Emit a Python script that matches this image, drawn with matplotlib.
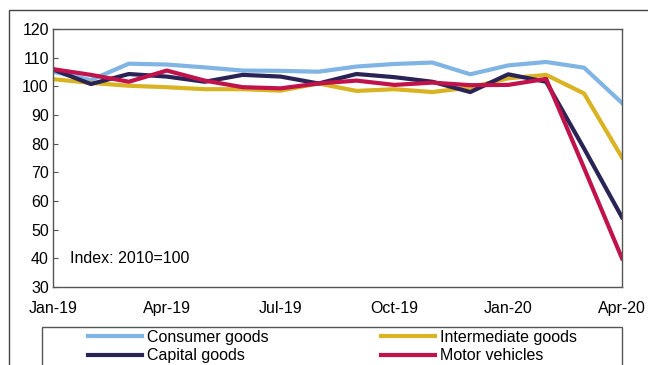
import matplotlib
matplotlib.use("Agg")
import matplotlib.pyplot as plt
from matplotlib.patches import Rectangle

plt.rcParams['font.family'] = ['Liberation Sans', 'DejaVu Sans']

months = ["Jan-19", "Feb-19", "Mar-19", "Apr-19", "May-19", "Jun-19", "Jul-19", "Aug-19",
          "Sep-19", "Oct-19", "Nov-19", "Dec-19", "Jan-20", "Feb-20", "Mar-20", "Apr-20"]

consumer = [105.1, 102.2, 107.9, 107.6, 106.6, 105.5, 105.4, 105.1,
            106.9, 107.8, 108.3, 104.2, 107.3, 108.5, 106.5, 94.2]
intermediate = [102.5, 101.2, 100.2, 99.7, 99.0, 99.0, 98.5, 101.0,
                98.4, 99.0, 98.0, 99.6, 102.8, 104.0, 97.5, 75.2]
capital = [105.9, 100.8, 104.3, 103.4, 101.6, 104.0, 103.4, 101.0,
           104.3, 103.2, 101.6, 98.0, 104.2, 101.6, 78.3, 54.3]
motor = [106.0, 104.0, 101.6, 105.5, 102.0, 99.7, 99.3, 101.0,
         102.0, 100.5, 101.3, 100.4, 100.5, 102.6, 71.5, 40.0]

series = [
    ("Consumer goods", consumer, "#7fb4e4"),
    ("Intermediate goods", intermediate, "#d9b322"),
    ("Capital goods", capital, "#2a2456"),
    ("Motor vehicles", motor, "#c1124b"),
]

fs = 11.5

fig = plt.figure(figsize=(6.48, 3.65), dpi=100)
ax = fig.add_axes([53/648, 1 - 287/365, 569/648, 258/365])

x = list(range(len(months)))
handles = {}
for name, vals, col in series:
    line, = ax.plot(x, vals, color=col, lw=3, label=name)
    handles[name] = line

ax.set_xlim(0, 15)
ax.set_ylim(30, 120)
ax.set_yticks(range(30, 121, 10))
ax.set_xticks(x[::3])
ax.set_xticklabels(months[::3])
ax.tick_params(axis='y', direction='in', length=3.6, width=0.8, pad=3,
               labelsize=fs, color='#555555')
ax.tick_params(axis='x', length=0, pad=10, labelsize=fs)
for sp in ax.spines.values():
    sp.set_color('#555555')
    sp.set_linewidth(1)

ax.text(0.45, 40, "Index: 2010=100", fontsize=fs, va='center', ha='left')

# legend, ordered row by row
order = ["Consumer goods", "Capital goods", "Intermediate goods", "Motor vehicles"]
fig.legend([handles[n] for n in order], order, ncol=2, frameon=False,
           loc='upper left', bbox_to_anchor=(88/648, 1 - 330/365),
           borderaxespad=0, borderpad=0, fontsize=fs, handlelength=3.4,
           handletextpad=0.3, columnspacing=7.0, labelspacing=0.2)

# legend box and outer frame
fig.patches.append(Rectangle((42/648, -0.1), 580/648, 0.1 + (365 - 327)/365,
                             transform=fig.transFigure, fill=False,
                             edgecolor='#555555', lw=1))
fig.patches.append(Rectangle((9/648, -0.1), 2, 1.1 - 10/365,
                             transform=fig.transFigure, fill=False,
                             edgecolor='#444444', lw=1))

fig.savefig("out.png", dpi=100)
